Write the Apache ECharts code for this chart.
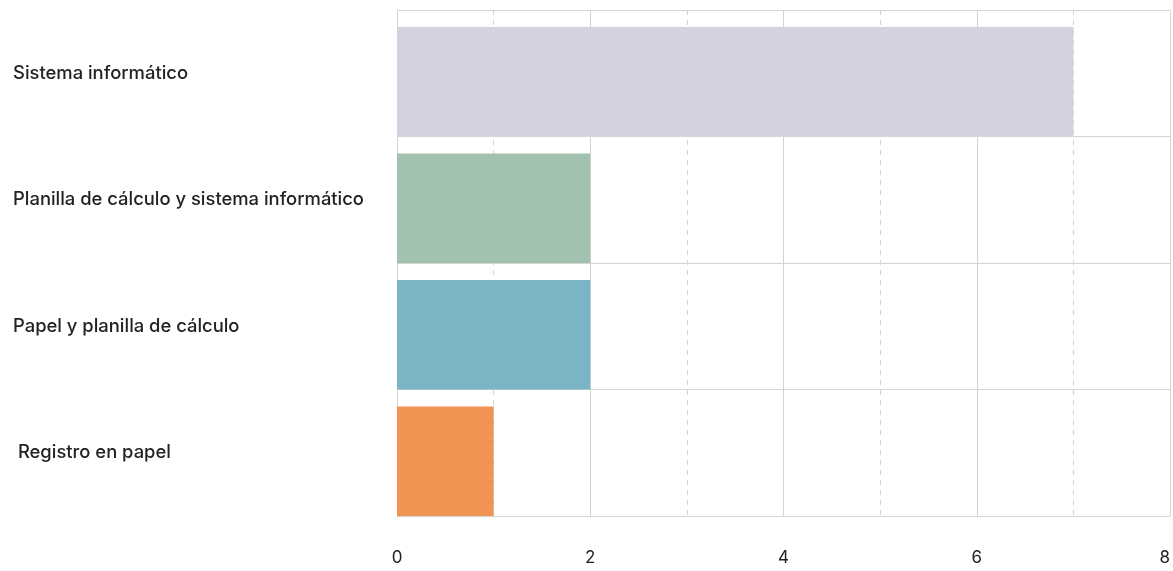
<!DOCTYPE html>
<html>
<head>
<meta charset="utf-8">
<script src="https://cdn.jsdelivr.net/npm/echarts@6/dist/echarts.min.js"></script>
<style>
  html, body { margin: 0; padding: 0; background: #fff; }
  #chart { width: 1173px; height: 571px; }
</style>
</head>
<body>
<div id="chart"></div>
<script>
const categories = ['Sistema informático', 'Planilla de cálculo y sistema informático', 'Papel y planilla de cálculo', ' Registro en papel'];
const values = [7, 2, 2, 1];
const barColors = ['#d3d3df', '#a2c2af', '#7bb4c4', '#f19453'];
const xTicks = [0, 2, 4, 6, 8];

const chart = echarts.init(document.getElementById('chart'));

chart.setOption({
  animation: false,
  textStyle: { fontFamily: 'Inter, sans-serif' },
  grid: { left: 397, right: 1, top: 10, bottom: 55, containLabel: false },
  xAxis: {
    type: 'value',
    min: xTicks[0],
    max: xTicks[xTicks.length - 1],
    interval: 2,
    axisLine: { show: false },
    axisTick: { show: false },
    axisLabel: { color: '#222', fontSize: 17, margin: 33, alignMaxLabel: 'right' },
    splitLine: { show: true, lineStyle: { color: '#d4d4d4', width: 1 } },
    minorTick: { show: false, splitNumber: 2 },
    minorSplitLine: { show: true, lineStyle: { color: '#d4d4d4', type: [5, 5] } }
  },
  yAxis: {
    type: 'category',
    inverse: true,
    data: categories,
    axisLine: { show: false },
    axisTick: { show: false },
    axisLabel: { color: '#222', fontSize: 18.4, fontWeight: 500, align: 'left', margin: 384, lineHeight: 20 },
    splitLine: { show: true, lineStyle: { color: '#d4d4d4', width: 1 } }
  },
  series: [
    {
      type: 'bar',
      barWidth: '13.5%',
      barGap: '0%',
      data: categories.map(() => 0),
      itemStyle: { color: 'transparent' },
      silent: true
    },
    {
      type: 'bar',
      barWidth: '86.5%',
      barGap: '0%',
      data: values.map((v, i) => ({ value: v, itemStyle: { color: barColors[i] } }))
    }
  ]
});
</script>
</body>
</html>
